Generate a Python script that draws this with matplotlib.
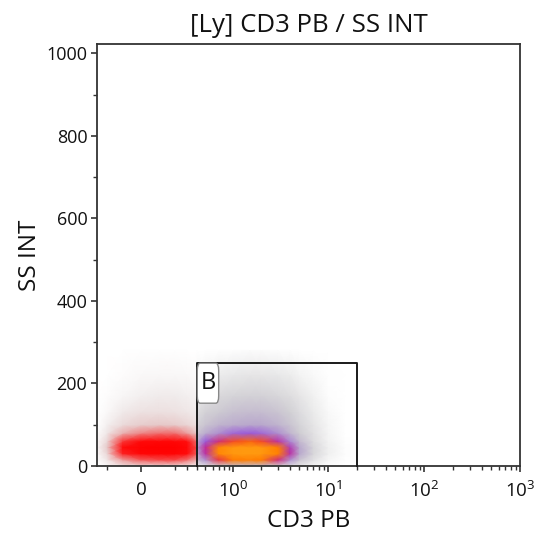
import numpy as np
import matplotlib
matplotlib.use("Agg")
import matplotlib.pyplot as plt
from matplotlib.colors import LinearSegmentedColormap

plt.rcParams['font.family'] = ['Open Sans', 'DejaVu Sans']
plt.rcParams['mathtext.default'] = 'regular'

# axis ticks
x_major = [0, 1, 10, 100, 1000]
x_major_labels = ['0', '$10^0$', '$10^1$', '$10^2$', '$10^3$']
x_minor = [-0.2, 0.2, 0.3, 0.4, 0.5, 0.6, 0.7, 0.8, 0.9,
           2, 3, 4, 5, 6, 7, 8, 9, 20, 30, 40, 50, 60, 70, 80, 90,
           200, 300, 400, 500, 600, 700, 800, 900]
y_major = [0, 200, 400, 600, 800, 1000]
y_minor = [100, 300, 500, 700, 900]

# gate B (CD3 PB from/to, SS INT from/to)
gate_x = [0.4, 20]
gate_y = [0, 250]

# event density, levels 0..10
ss_nodes = [0, 15, 30, 45, 60, 80, 100, 130, 170, 220, 280]

# events outside gate B (drawn red)
red_x_nodes = [-0.28, -0.2, -0.1, 0, 0.1, 0.2, 0.3, 0.4]
red_density = [
    [0.0, 0.3, 1.0, 1.5, 1.5, 1.5, 1.0, 0.5],
    [0.1, 0.8, 3.0, 4.5, 5.0, 5.0, 4.0, 2.5],
    [0.2, 1.5, 6.0, 8.5, 9.0, 9.0, 7.5, 4.5],
    [0.3, 2.0, 7.5, 9.5, 10.0, 10.0, 8.5, 5.0],
    [0.2, 1.5, 5.5, 8.0, 8.5, 8.5, 7.0, 4.0],
    [0.1, 0.8, 2.5, 3.5, 4.0, 4.0, 3.0, 2.0],
    [0.0, 0.5, 1.3, 1.8, 2.0, 1.9, 1.5, 1.0],
    [0.0, 0.2, 0.7, 1.0, 1.1, 1.0, 0.8, 0.6],
    [0.0, 0.1, 0.3, 0.5, 0.6, 0.6, 0.5, 0.4],
    [0.0, 0.0, 0.1, 0.2, 0.25, 0.25, 0.2, 0.15],
    [0.0, 0.0, 0.0, 0.05, 0.05, 0.05, 0.0, 0.0],
]

# events inside gate B (density coloured)
b_x_nodes = [0.4, 0.5, 0.7, 1, 1.5, 2, 3, 4, 5, 7, 10, 15, 20]
b_density = [
    [0.8, 1.2, 2.0, 2.5, 2.5, 2.5, 2.0, 1.3, 0.9, 0.4, 0.1, 0.0, 0.0],
    [2.5, 3.5, 6.0, 7.5, 8.0, 7.5, 5.5, 3.5, 2.3, 1.1, 0.3, 0.05, 0.0],
    [3.2, 5.0, 8.5, 9.8, 10.0, 9.8, 8.0, 5.0, 3.2, 1.6, 0.5, 0.1, 0.0],
    [3.4, 5.2, 8.5, 9.8, 10.0, 9.8, 7.8, 4.8, 3.2, 1.6, 0.5, 0.1, 0.0],
    [3.0, 4.2, 5.5, 6.5, 7.0, 6.5, 5.0, 3.6, 2.6, 1.3, 0.4, 0.05, 0.0],
    [2.3, 3.0, 3.5, 4.0, 4.2, 4.0, 3.5, 2.7, 2.0, 1.1, 0.35, 0.0, 0.0],
    [1.8, 2.3, 2.8, 3.0, 3.2, 3.2, 2.8, 2.3, 1.7, 0.9, 0.3, 0.0, 0.0],
    [1.3, 1.8, 2.1, 2.4, 2.5, 2.5, 2.3, 1.9, 1.4, 0.7, 0.2, 0.0, 0.0],
    [0.8, 1.1, 1.5, 1.7, 1.8, 1.8, 1.6, 1.3, 0.9, 0.45, 0.1, 0.0, 0.0],
    [0.3, 0.4, 0.6, 0.8, 0.9, 0.9, 0.8, 0.6, 0.4, 0.2, 0.05, 0.0, 0.0],
    [0.0, 0.0, 0.05, 0.1, 0.15, 0.15, 0.1, 0.05, 0.0, 0.0, 0.0, 0.0, 0.0],
]

# biexponential-like display (arcsinh)
c = 0.222
def fwd(x):
    return np.arcsinh(np.asarray(x) / c)
def inv(u):
    return c * np.sinh(np.asarray(u))

red_cmap = LinearSegmentedColormap.from_list('red_ev', [
    (0.0, '#ffffff'), (0.06, '#f0ebeb'), (0.2, '#e6c8c8'),
    (0.4, '#f07070'), (0.65, '#ff1010'), (1.0, '#ff0000')])
b_cmap = LinearSegmentedColormap.from_list('gate_ev', [
    (0.0, '#ffffff'), (0.06, '#ececec'), (0.2, '#cfcdd2'),
    (0.32, '#b8a6cc'), (0.42, '#9a5ad8'), (0.52, '#c02a9a'),
    (0.62, '#f03a30'), (0.74, '#ff7a00'), (1.0, '#ff9a10')])

fig = plt.figure(figsize=(5.34, 5.37), dpi=100)
ax = fig.add_axes([97/534, 71/537, 423/534, 422/537])
ax.set_xscale('function', functions=(fwd, inv))

ax.pcolormesh(red_x_nodes, ss_nodes, np.array(red_density), cmap=red_cmap,
              vmin=0, vmax=10, shading='gouraud', zorder=1)
ax.pcolormesh(b_x_nodes, ss_nodes, np.array(b_density), cmap=b_cmap,
              vmin=0, vmax=10, shading='gouraud', zorder=1)

# gate B
ax.plot([gate_x[0], gate_x[0], gate_x[1], gate_x[1]],
        [gate_y[0], gate_y[1], gate_y[1], gate_y[0]],
        color='#1a1a1a', lw=1.4, zorder=3, clip_on=False)
# label box is taller than wide, stretch it vertically
ax.annotate('B', xy=(gate_x[0], gate_y[1]), xytext=(2.3, -6.0),
            textcoords='offset points', fontsize=17, color='#111111',
            ha='left', va='top', zorder=4,
            bbox=dict(boxstyle='round,pad=0.13,rounding_size=0.12',
                      mutation_aspect=2.6,
                      fc='white', ec='#888888', lw=1.0))

ax.set_xlim(-0.28, 1000)
ax.set_ylim(0, 1023)
ax.set_xticks(x_major)
ax.set_xticklabels(x_major_labels)
ax.set_xticks(x_minor, minor=True)
ax.set_yticks(y_major)
ax.set_yticks(y_minor, minor=True)
ax.tick_params(axis='both', which='major', length=4.5, width=1.2,
               color='#333333', labelsize=13, labelcolor='#111111', pad=2.5)
ax.tick_params(axis='both', which='minor', length=2.8, width=1.0, color='#333333')
ax.tick_params(axis='x', which='major', pad=6, labelsize=13.5)
for s in ax.spines.values():
    s.set_color('#333333')
    s.set_linewidth(1.3)

ax.set_title('[Ly] CD3 PB / SS INT', fontsize=18.5, pad=9, color='#111111')
ax.set_xlabel('CD3 PB', fontsize=17.5, labelpad=6, color='#111111')
ax.set_ylabel('SS INT', fontsize=17.5, labelpad=3, color='#111111')

fig.savefig('out.png', dpi=100)
